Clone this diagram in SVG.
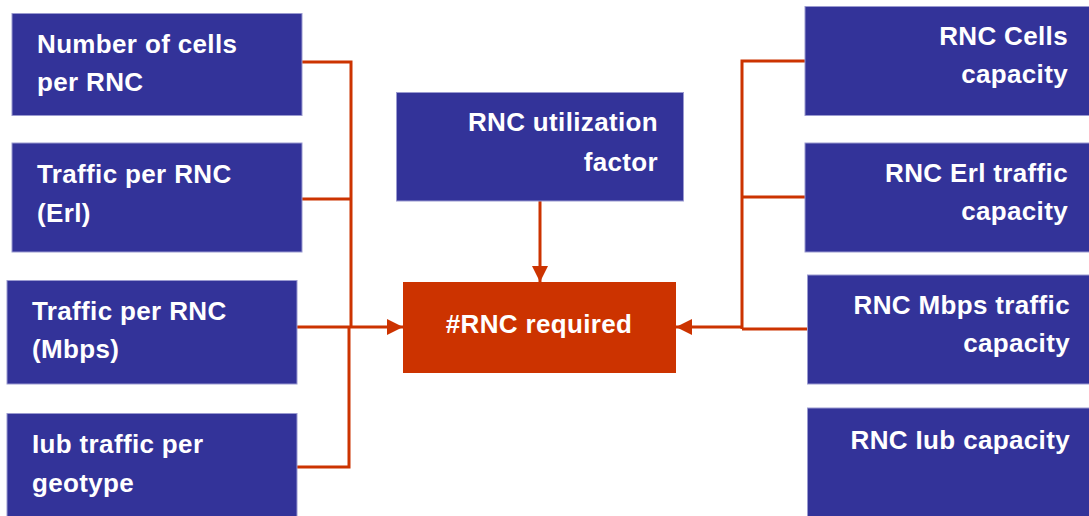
<svg xmlns="http://www.w3.org/2000/svg" width="1089" height="516" viewBox="0 0 1089 516">
<style>
.b{fill:#333399;stroke:#9A9AD0;stroke-width:1}
.o{fill:#CC3300}
.t{font-family:"Liberation Sans",Arial,sans-serif;font-weight:bold;font-size:26px;letter-spacing:0.35px;fill:#FFFFFF}
.r{text-anchor:end}
.m{text-anchor:middle}
.c{fill:none;stroke:#CC3300;stroke-width:3}
</style>
<defs>
<marker id="ah" viewBox="0 0 16 16" refX="16" refY="8" markerWidth="16" markerHeight="16" markerUnits="userSpaceOnUse" orient="auto">
<path d="M0,0 L16,8 L0,16 Z" fill="#CC3300"/>
</marker>
</defs>
<rect width="1089" height="516" fill="#FFFFFF"/>
<g id="connectors">
<path class="c" d="M302,62 H351 V327"/>
<path class="c" d="M302,199 H351"/>
<path class="c" d="M297,327 H351"/>
<path class="c" d="M297,467 H349 V327"/>
<path class="c" d="M351,327 H403" marker-end="url(#ah)"/>
<path class="c" d="M540,201 V282" marker-end="url(#ah)"/>
<path class="c" d="M806,61 H742 V329"/>
<path class="c" d="M806,197 H742"/>
<path class="c" d="M809,329 H742"/>
<path class="c" d="M742,327 H676" marker-end="url(#ah)"/>
</g>
<g id="n1"><rect class="b" x="12" y="13.5" width="290" height="102"/>
<text class="t" x="37" y="53">Number of cells</text><text class="t" x="37" y="91">per RNC</text></g>
<g id="n2"><rect class="b" x="12" y="143" width="290" height="109"/>
<text class="t" x="37" y="183">Traffic per RNC</text><text class="t" x="37" y="222">(Erl)</text></g>
<g id="n3"><rect class="b" x="7" y="280.5" width="290" height="103.5"/>
<text class="t" x="32" y="320">Traffic per RNC</text><text class="t" x="32" y="358">(Mbps)</text></g>
<g id="n4"><rect class="b" x="7" y="413.5" width="290" height="104"/>
<text class="t" x="32" y="453">Iub traffic per</text><text class="t" x="32" y="492">geotype</text></g>
<g id="n5"><rect class="b" x="396.5" y="92.5" width="287" height="108.5"/>
<text class="t r" x="658" y="131">RNC utilization</text><text class="t r" x="658" y="171">factor</text></g>
<g id="n6"><rect class="o" x="403" y="282" width="273" height="91"/>
<text class="t m" x="539" y="333">#RNC required</text></g>
<g id="n7"><rect class="b" x="805" y="6.5" width="285" height="109"/>
<text class="t r" x="1068" y="45">RNC Cells</text><text class="t r" x="1068" y="83">capacity</text></g>
<g id="n8"><rect class="b" x="805" y="143" width="285" height="109"/>
<text class="t r" x="1068" y="182">RNC Erl traffic</text><text class="t r" x="1068" y="220">capacity</text></g>
<g id="n9"><rect class="b" x="807.5" y="275" width="283" height="109"/>
<text class="t r" x="1070" y="314">RNC Mbps traffic</text><text class="t r" x="1070" y="352">capacity</text></g>
<g id="n10"><rect class="b" x="807.5" y="408" width="283" height="110"/>
<text class="t r" x="1070" y="449">RNC Iub capacity</text></g>
</svg>
